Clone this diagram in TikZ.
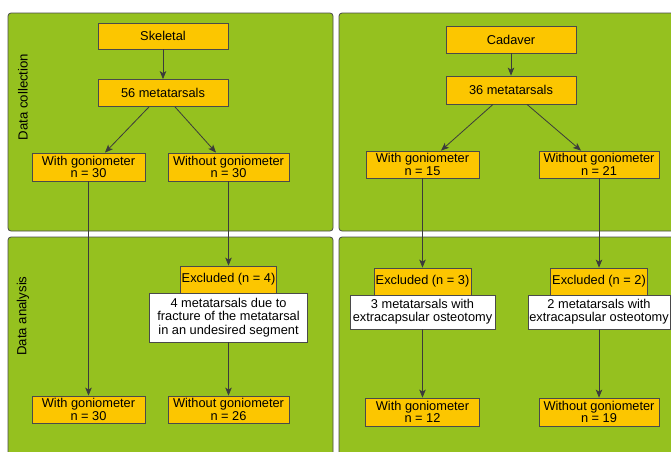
\documentclass[tikz,border=0pt]{standalone}
\usepackage{fontspec}
\setmainfont{Liberation Sans}
\usetikzlibrary{arrows.meta}
\definecolor{panelgreen}{HTML}{95C11F}
\definecolor{boxyellow}{HTML}{FCC600}
\definecolor{edgegray}{HTML}{4A4A4A}
\tikzset{
  panel/.style={draw=edgegray, line width=0.8pt, fill=panelgreen, rounded corners=3pt},
  ybox/.style={draw=edgegray, line width=0.8pt, fill=boxyellow, inner sep=0pt, align=center,
    font=\fontsize{12.8}{12.3}\selectfont},
  wbox/.style={draw=edgegray, line width=0.8pt, fill=white, inner sep=0pt, align=center,
    font=\fontsize{12.8}{13.3}\selectfont},
  sidelabel/.style={rotate=90, font=\fontsize{13.2}{13}\selectfont},
  conn/.style={draw=edgegray!80!black, line width=0.8pt, -{Stealth[length=8pt,width=6.5pt,inset=2pt]}},
  plain/.style={draw=edgegray!80!black, line width=0.8pt}
}
\begin{document}
\begin{tikzpicture}[x=1pt,y=-1pt]
\useasboundingbox (0,0) rectangle (671,451);
\clip (0,0) rectangle (671,451);
% panels
\path[panel] (8,13) rectangle (333,231);
\path[panel] (339,13) rectangle (685,231);
\path[panel] (8,237) rectangle (333,465);
\path[panel] (339,237) rectangle (685,465);
% side labels
\node[sidelabel] (lblc) at (23,97) {Data collection};
\node[sidelabel] (lbla) at (23,316) {Data analysis};
% left column
\node[ybox, minimum width=130pt, minimum height=26pt] (sk) at (163,36) {Skeletal};
\node[ybox, minimum width=130pt, minimum height=27pt] (m56) at (163,93) {56 metatarsals};
\node[ybox, minimum width=113pt, minimum height=28pt] (lw1) at (88.5,167) {With goniometer\\n = 30};
\node[ybox, minimum width=121pt, minimum height=28pt] (lwo1) at (228.5,167) {Without goniometer\\n = 30};
\node[ybox, minimum width=96pt, minimum height=27pt] (lex) at (228.5,279.5) {Excluded (n = 4)};
\node[wbox, minimum width=158pt, minimum height=49pt] (lwh) at (228.5,317.5) {4 metatarsals due to\\fracture of the metatarsal\\in an undesired segment};
\node[ybox, minimum width=113pt, minimum height=27pt] (lw2) at (88.5,409.5) {With goniometer\\n = 30};
\node[ybox, minimum width=121pt, minimum height=27pt] (lwo2) at (228.5,409.5) {Without goniometer\\n = 26};
% right column
\node[ybox, minimum width=130pt, minimum height=27pt] (cad) at (511,39.5) {Cadaver};
\node[ybox, minimum width=130pt, minimum height=28pt] (m36) at (511,90) {36 metatarsals};
\node[ybox, minimum width=113pt, minimum height=27pt] (rw1) at (422.5,164.5) {With goniometer\\n = 15};
\node[ybox, minimum width=120pt, minimum height=27pt] (rwo1) at (599,164.5) {Without goniometer\\n = 21};
\node[ybox, minimum width=97pt, minimum height=27pt] (rex3) at (422.5,281.5) {Excluded (n = 3)};
\node[wbox, minimum width=145pt, minimum height=34pt] (rwh3) at (422.5,312) {3 metatarsals with\\extracapsular osteotomy};
\node[ybox, minimum width=97pt, minimum height=27pt] (rex2) at (599,281.5) {Excluded (n = 2)};
\node[wbox, minimum width=142pt, minimum height=34pt] (rwh2) at (599,312) {2 metatarsals with\\extracapsular osteotomy};
\node[ybox, minimum width=114pt, minimum height=28pt] (rw2) at (422.5,412) {With goniometer\\n = 12};
\node[ybox, minimum width=120pt, minimum height=28pt] (rwo2) at (599,412) {Without goniometer\\n = 19};
% connectors left
\draw[conn] (sk) -- (m56);
\draw[conn] ([xshift=-14pt]m56.south) -- ([xshift=16.5pt]lw1.north);
\draw[conn] ([xshift=12pt]m56.south) -- ([xshift=-12.5pt]lwo1.north);
\draw[conn] (lw1) -- (lw2);
\draw[conn] (lwo1) -- (lex);
\draw[conn] (lwh) -- (lwo2);
% connectors right
\draw[conn] (cad) -- (m36);
\draw[conn] ([xshift=-18pt]m36.south) -- ([xshift=18.5pt]rw1.north);
\draw[conn] ([xshift=16pt]m36.south) -- ([xshift=-18pt]rwo1.north);
\draw[conn] (rw1) -- (rex3);
\draw[conn] (rwo1) -- (rex2);
\draw[conn] (rwh3) -- (rw2);
\draw[conn] (rwh2) -- (rwo2);
\end{tikzpicture}
\end{document}
